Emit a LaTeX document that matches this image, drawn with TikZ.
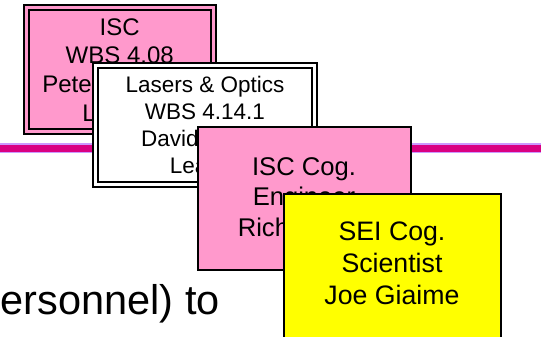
\documentclass[tikz,border=0pt]{standalone}
\usepackage{fontspec}
\setmainfont{Liberation Sans}
\definecolor{cardpink}{RGB}{255,153,204}
\definecolor{cardyellow}{RGB}{255,255,0}
\definecolor{rulemagenta}{RGB}{217,0,130}
\definecolor{rulelilac}{RGB}{204,153,255}

\begin{document}
\begin{tikzpicture}[x=1pt, y=-1pt,
    card/.style={draw=black, line width=2pt, inner sep=0pt, align=center},
    framed/.style={double=#1, double distance=3pt},
  ]
  \useasboundingbox (0,0) rectangle (542,337);
  \coordinate (rule-w) at (0,148.5);
  \coordinate (rule-e) at (541,148.5);
  \draw[rulelilac, line width=10pt] (rule-w) -- (rule-e);
  \draw[rulemagenta, line width=7pt] (rule-w) -- (rule-e);
  \node[card, framed=cardpink, fill=cardpink, minimum width=187.5pt, minimum height=124pt,
        text depth=0pt, font=\fontsize{24}{28.8}\selectfont]
    (isc) at (119.75,70) {ISC\\WBS 4.08\\Peter Fritschel\\Leader};
  \node[card, framed=white, fill=white, minimum width=219pt, minimum height=119pt,
        text depth=0pt, font=\fontsize{22.5}{27}\selectfont]
    (optics) at (205,125) {Lasers \& Optics\\WBS 4.14.1\\David Reitze\\Leader};
  \node[card, fill=cardpink, minimum width=213pt, minimum height=142pt,
        text depth=3.3pt, font=\fontsize{25.6}{30.7}\selectfont]
    (isccog) at (304,198.5) {ISC Cog.\\Engineer\\Rich Abbott};
  \node[card, fill=cardyellow, minimum width=217pt, minimum height=150pt,
        text depth=12.5pt, font=\fontsize{26.7}{32}\selectfont]
    (seicog) at (392,269.5) {SEI Cog.\\Scientist\\Joe Giaime};
  \node[anchor=base east, inner sep=0pt, font=\fontsize{41.5}{48}\selectfont]
    (caption) at (220,315) {ersonnel) to};
\end{tikzpicture}
\end{document}
